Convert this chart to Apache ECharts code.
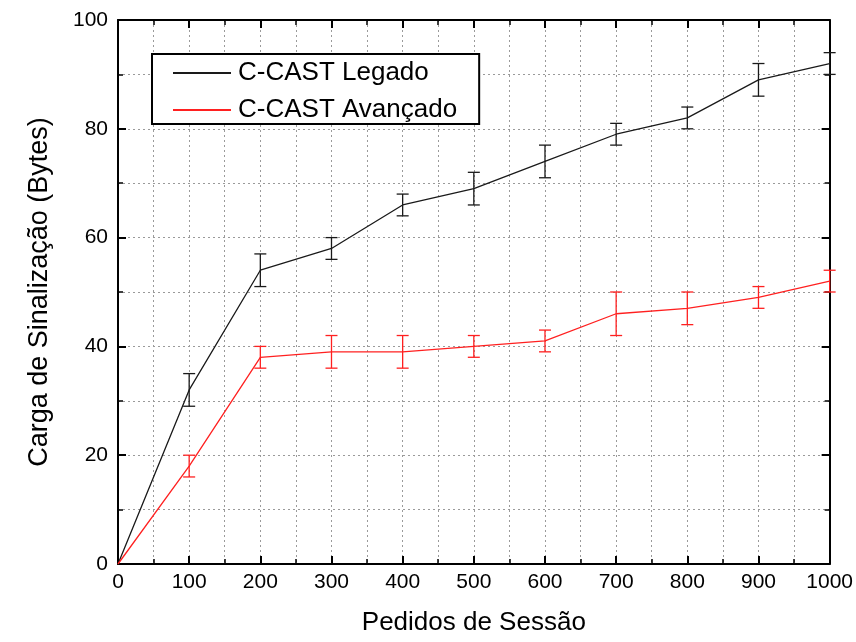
<!DOCTYPE html>
<html>
<head>
<meta charset="utf-8">
<script src="https://cdn.jsdelivr.net/npm/echarts@6/dist/echarts.min.js"></script>
<style>html,body{margin:0;padding:0;background:#fff}#c{width:856px;height:642px}</style>
</head>
<body>
<div id="c"></div>
<script>
const xs = [0,100,200,300,400,500,600,700,800,900,1000];
const legado = [0,32,54,58,66,69,74,79,82,89,92];
const legadoLow = [null,29,51,56,64,66,71,77,80,86,90];
const legadoHigh = [null,35,57,60,68,72,77,81,84,92,94];
const avancado = [0,18,38,39,39,40,41,46,47,49,52];
const avancadoLow = [null,16,36,36,36,38,39,42,44,47,50];
const avancadoHigh = [null,20,40,42,42,42,43,50,50,51,54];
const xTicks = [0,100,200,300,400,500,600,700,800,900,1000];
const yTicks = [0,20,40,60,80,100];

const FONT = '"Liberation Sans", Arial, sans-serif';
const chart = echarts.init(document.getElementById('c'), null, {renderer:'canvas'});

function pairs(vals){ return xs.map((x,i)=>[x, vals[i]]); }
function errData(lo, hi){
  const out = [];
  xs.forEach((x,i)=>{ if(lo[i]!=null) out.push([x, lo[i], hi[i]]); });
  return out;
}
function errSeries(name, lo, hi, color){
  return {
    type:'custom', name:name+'_err', xAxisIndex:0, yAxisIndex:0, silent:true, z:3,
    data: errData(lo, hi),
    encode:{x:0, y:[1,2]},
    renderItem: function(params, api){
      const x = api.value(0);
      const p1 = api.coord([x, api.value(1)]);
      const p2 = api.coord([x, api.value(2)]);
      const w = 6;
      const st = {stroke: color, lineWidth: 1.3};
      return {type:'group', children:[
        {type:'line', shape:{x1:p1[0], y1:p1[1], x2:p2[0], y2:p2[1]}, style:st},
        {type:'line', shape:{x1:p1[0]-w, y1:p1[1], x2:p1[0]+w, y2:p1[1]}, style:st},
        {type:'line', shape:{x1:p2[0]-w, y1:p2[1], x2:p2[0]+w, y2:p2[1]}, style:st}
      ]};
    }
  };
}

const gridLine = {show:true, lineStyle:{color:'#9a9a9a', type:[2,3], width:1}};
const axisLine = {show:true, onZero:false, lineStyle:{color:'#000', width:2}};

chart.setOption({
  animation:false,
  backgroundColor:'#fff',
  textStyle:{fontFamily:FONT},
  grid:{left:118, right:23, top:20, bottom:78, containLabel:false},
  legend:{
    left:152, top:54, orient:'vertical',
    backgroundColor:'#fff', borderColor:'#000', borderWidth:2, borderRadius:0,
    padding:[6,22,1,21], itemGap:11, itemWidth:58, itemHeight:2,
    icon:'rect',
    textStyle:{fontFamily:FONT, fontSize:26, color:'#000', padding:[0,0,0,2]},
    data:['C-CAST Legado','C-CAST Avançado']
  },
  xAxis:[{
    type:'value', min:0, max:1000, interval:100, position:'bottom',
    name:'Pedidos de Sessão', nameLocation:'middle', nameGap:46,
    nameTextStyle:{fontFamily:FONT, fontSize:26, color:'#000'},
    axisLine:axisLine,
    axisTick:{show:true, inside:true, length:8, lineStyle:{color:'#000', width:2}},
    minorTick:{show:true, splitNumber:2, length:5, lineStyle:{color:'#000', width:1.5}},
    axisLabel:{fontFamily:FONT, fontSize:21, color:'#000', margin:8,
      formatter:v=> xTicks.indexOf(v)>=0 ? String(v) : ''},
    splitLine:gridLine, minorSplitLine:gridLine
  },{
    type:'value', min:0, max:1000, interval:100, position:'top',
    axisLine:axisLine,
    axisTick:{show:true, inside:true, length:8, lineStyle:{color:'#000', width:2}},
    minorTick:{show:true, splitNumber:2, length:5, lineStyle:{color:'#000', width:1.5}},
    axisLabel:{show:false}, splitLine:{show:false}
  }],
  yAxis:[{
    type:'value', min:0, max:100, interval:20, position:'left',
    name:'Carga de Sinalização (Bytes)', nameLocation:'middle', nameGap:65, nameRotate:90,
    nameTextStyle:{fontFamily:FONT, fontSize:27, color:'#000'},
    axisLine:axisLine,
    axisTick:{show:true, inside:true, length:8, lineStyle:{color:'#000', width:2}},
    minorTick:{show:true, splitNumber:2, length:5, lineStyle:{color:'#000', width:1.5}},
    axisLabel:{fontFamily:FONT, fontSize:21, color:'#000', margin:10,
      formatter:v=> yTicks.indexOf(v)>=0 ? String(v) : ''},
    splitLine:gridLine, minorSplitLine:gridLine
  },{
    type:'value', min:0, max:100, interval:20, position:'right',
    axisLine:axisLine,
    axisTick:{show:true, inside:true, length:8, lineStyle:{color:'#000', width:2}},
    minorTick:{show:true, splitNumber:2, length:5, lineStyle:{color:'#000', width:1.5}},
    axisLabel:{show:false}, splitLine:{show:false}
  }],
  series:[
    {type:'line', name:'C-CAST Legado', data:pairs(legado), showSymbol:false, symbol:'none',
     color:'#1a1a1a', lineStyle:{color:'#1a1a1a', width:1.3}, z:4},
    {type:'line', name:'C-CAST Avançado', data:pairs(avancado), showSymbol:false, symbol:'none',
     color:'#ff2020', lineStyle:{color:'#ff2020', width:1.3}, z:4},
    errSeries('C-CAST Legado', legadoLow, legadoHigh, '#1a1a1a'),
    errSeries('C-CAST Avançado', avancadoLow, avancadoHigh, '#ff2020')
  ]
});
</script>
</body>
</html>
